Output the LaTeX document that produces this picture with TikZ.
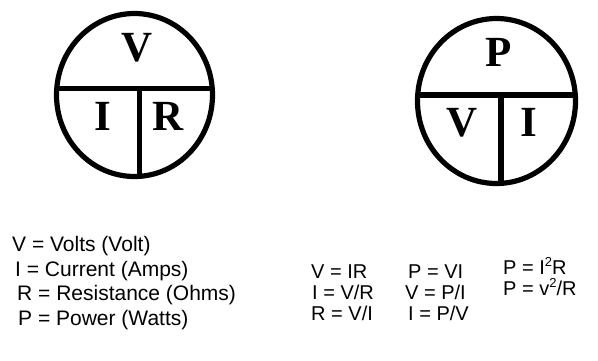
\documentclass[tikz,border=0pt]{standalone}
\usepackage{fontspec}
\setmainfont{Liberation Sans}
\newfontfamily\lettersfont{Liberation Serif}
\begin{document}
\begin{tikzpicture}[x=1pt,y=-1pt,
  ring/.style={line width=5.2pt},
  letter/.style={font=\lettersfont\bfseries\fontsize{43}{43}\selectfont, inner sep=0pt, anchor=base},
  legend/.style={font=\fontsize{21}{24}\selectfont, inner sep=0pt, anchor=base west},
  eq/.style={font=\fontsize{20}{23}\selectfont, inner sep=0pt, anchor=base west}]
\useasboundingbox (0,0) rectangle (598,360);
\newcommand{\supr}[1]{\raisebox{0.4em}{\fontsize{13}{13}\selectfont #1}}
% left circle
\coordinate (lc) at (134.5,95);
\draw[ring] (lc) ellipse [x radius=78, y radius=81.5];
\begin{scope}
  \clip (lc) ellipse [x radius=78, y radius=81.5];
  \coordinate (lhl) at (40,88.5);
  \coordinate (lhr) at (230,88.5);
  \coordinate (lvt) at (139.5,88.5);
  \coordinate (lvb) at (139.5,200);
  \draw[ring] (lhl) -- (lhr);
  \draw[ring] (lvt) -- (lvb);
\end{scope}
\node[letter] (lV) at (137.5,61.7) {V};
\node[letter] (lI) at (102.5,130) {I};
\node[letter] (lR) at (168.3,130) {R};
% right circle
\coordinate (rc) at (496.5,101);
\draw[ring] (rc) ellipse [x radius=79, y radius=82.5];
\begin{scope}
  \clip (rc) ellipse [x radius=79, y radius=82.5];
  \coordinate (rhl) at (400,95);
  \coordinate (rhr) at (590,95);
  \coordinate (rvt) at (501,95);
  \coordinate (rvb) at (501,200);
  \draw[ring] (rhl) -- (rhr);
  \draw[ring] (rvt) -- (rvb);
\end{scope}
\node[letter] (rP) at (499,66.7) {P};
\node[letter] (rV) at (462.5,136.7) {V};
\node[letter] (rI) at (528.8,136.7) {I};
% legend
\node[legend] (t1) at (12,251) {V = Volts (Volt)};
\node[legend] (t2) at (15,276) {I = Current (Amps)};
\node[legend] (t3) at (17,300) {R = Resistance (Ohms)};
\node[legend] (t4) at (18,325) {P = Power (Watts)};
% equations
\node[eq] (e1) at (311,278) {V = IR};
\node[eq] (e2) at (312,299) {I = V/R};
\node[eq] (e3) at (311,320) {R = V/I};
\node[eq] (e4) at (408,278) {P = VI};
\node[eq] (e5) at (405,299) {V = P/I};
\node[eq] (e6) at (408,320) {I = P/V};
\node[eq] (e7) at (503,274) {P = I\supr{2}R};
\node[eq] (e8) at (503,295) {P = v\supr{2}/R};
\end{tikzpicture}
\end{document}
